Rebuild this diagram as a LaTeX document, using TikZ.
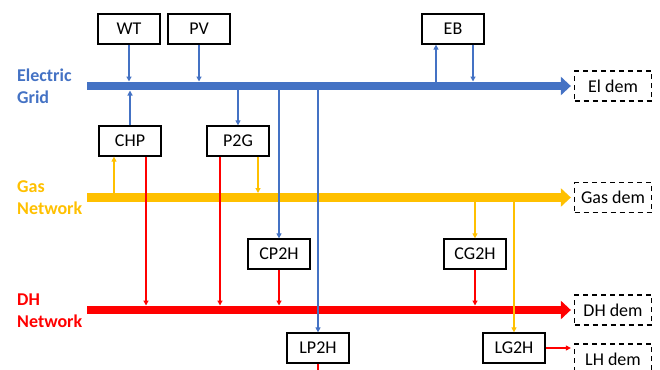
\documentclass[tikz,border=0pt]{standalone}
\usepackage{fontspec}
\setmainfont{Carlito}
\usetikzlibrary{arrows.meta}
\definecolor{elblue}{HTML}{4472C4}
\definecolor{gasyellow}{HTML}{FFC000}
\definecolor{dhred}{HTML}{FF0000}
\tikzset{
  unit/.style={draw, line width=1.3pt, minimum width=62pt, minimum height=30pt, inner sep=0pt, font=\fontsize{18}{20}\selectfont},
  dem/.style={draw, dash pattern=on 5pt off 4pt, line width=1.3pt, minimum width=77pt, minimum height=30pt, inner sep=0pt, font=\fontsize{18}{20}\selectfont},
  bus/.style={line width=8.5pt, -{Triangle[length=10pt,width=18pt]}},
  flow/.style={line width=1.2pt, -{Triangle[length=5pt,width=5pt]}},
  netlabel/.style={anchor=west, align=left, inner sep=0pt, font=\bfseries\fontsize{18}{22}\selectfont},
}
\begin{document}
\begin{tikzpicture}[x=1pt, y=-1pt]
	\useasboundingbox (0,0) rectangle (660,369);
	\clip (0,0) rectangle (660,369);
	% network labels
	\node[netlabel, text=elblue] (ellabel) at (17,86) {Electric\\Grid};
	\node[netlabel, text=gasyellow] (gaslabel) at (17,198) {Gas\\Network};
	\node[netlabel, text=dhred] (dhlabel) at (17,311) {DH\\Network};
	% units
	\node[unit] (wt) at (129,29) {WT};
	\node[unit] (pv) at (199,29) {PV};
	\node[unit] (eb) at (453,29) {EB};
	\node[unit] (chp) at (130,141) {CHP};
	\node[unit] (p2g) at (238,141) {P2G};
	\node[unit] (cp2h) at (279,254) {CP2H};
	\node[unit] (cg2h) at (475,254) {CG2H};
	\node[unit] (lp2h) at (318,348) {LP2H};
	\node[unit] (lg2h) at (514,348) {LG2H};
	% demands
	\node[dem] (eldem) at (613,86) {El dem};
	\node[dem] (gasdem) at (613,197.5) {Gas dem};
	\node[dem] (dhdem) at (613,310) {DH dem};
	\node[dem] (lhdem) at (613,359) {LH dem};
	% buses
	\coordinate (elbus) at (87,86);
	\coordinate (eltop) at (0,81.5);
	\coordinate (elbot) at (0,90.5);
	\coordinate (gasbus) at (87,197.5);
	\coordinate (gastop) at (0,193);
	\coordinate (dhbus) at (87,310);
	\coordinate (dhtop) at (0,305.5);
	\coordinate (bottom) at (0,375);
	\draw[bus, elblue] (elbus) -- ([xshift=-3pt]eldem.west);
	\draw[bus, gasyellow] (gasbus) -- ([xshift=-3pt]gasdem.west);
	\draw[bus, dhred] (dhbus) -- ([xshift=-3pt]dhdem.west);
	% electricity
	\draw[flow, elblue] (wt.south) -- (wt.south |- eltop);
	\draw[flow, elblue] (pv.south) -- (pv.south |- eltop);
	\draw[flow, elblue] (chp.north) -- (chp.north |- elbot);
	\draw[flow, elblue] ([xshift=-17pt]eb.south |- elbus) -- ([xshift=-17pt]eb.south);
	\draw[flow, elblue] ([xshift=20pt]eb.south) -- ([xshift=20pt]eb.south |- eltop);
	\draw[flow, elblue] (p2g.north |- elbus) -- (p2g.north);
	\draw[flow, elblue] (cp2h.north |- elbus) -- (cp2h.north);
	\draw[flow, elblue] (lp2h.north |- elbus) -- (lp2h.north);
	% gas
	\draw[flow, gasyellow] ([xshift=-16pt]chp.south |- gasbus) -- ([xshift=-16pt]chp.south);
	\draw[flow, gasyellow] ([xshift=20pt]p2g.south) -- ([xshift=20pt]p2g.south |- gastop);
	\draw[flow, gasyellow] (cg2h.north |- gasbus) -- (cg2h.north);
	\draw[flow, gasyellow] (lg2h.north |- gasbus) -- (lg2h.north);
	% heat
	\draw[flow, dhred] ([xshift=16pt]chp.south) -- ([xshift=16pt]chp.south |- dhtop);
	\draw[flow, dhred] ([xshift=-18pt]p2g.south) -- ([xshift=-18pt]p2g.south |- dhtop);
	\draw[flow, dhred] (cp2h.south) -- (cp2h.south |- dhtop);
	\draw[flow, dhred] (cg2h.south) -- (cg2h.south |- dhtop);
	\draw[line width=1.2pt, dhred] (lp2h.south) -- (lp2h.south |- bottom);
	\draw[flow, dhred] (lg2h.east) -- ([xshift=-3pt]lg2h.east -| lhdem.west);
\end{tikzpicture}
\end{document}
